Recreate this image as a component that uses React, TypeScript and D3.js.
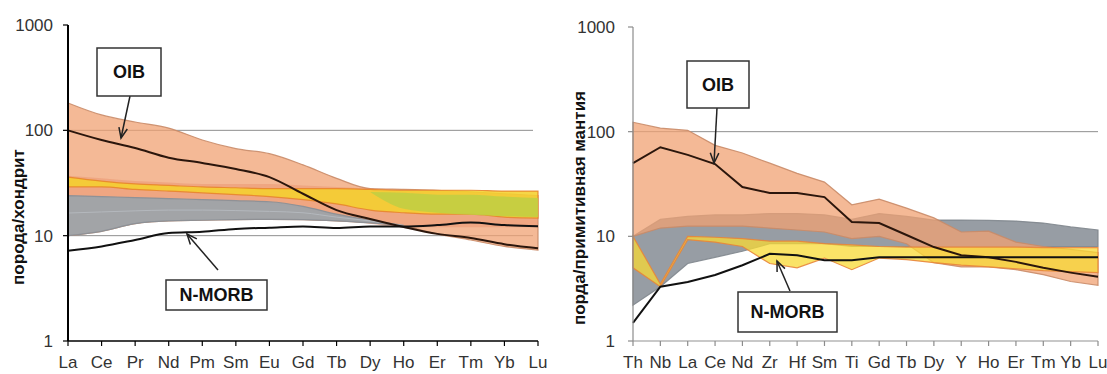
import * as d3 from "d3";

// categories
const ree = ["La", "Ce", "Pr", "Nd", "Pm", "Sm", "Eu", "Gd", "Tb", "Dy", "Ho", "Er", "Tm", "Yb", "Lu"];
const spider = ["Th", "Nb", "La", "Ce", "Nd", "Zr", "Hf", "Sm", "Ti", "Gd", "Tb", "Dy", "Y", "Ho", "Er", "Tm", "Yb", "Lu"];
const yTicks = [1, 10, 100, 1000];
const gridValues = [10, 100];

// chondrite normalised panel
const reeOibLine = [100, 81, 68, 55, 49, 43, 36, 25, 17.5, 14.4, 12.1, 10.4, 9.5, 8.3, 7.6];
const reeMorbLine = [7.2, 7.9, 9.1, 10.6, 10.9, 11.6, 11.9, 12.2, 11.8, 12.2, 12.2, 12.6, 13.3, 12.6, 12.3];
const reeOibUpper = [182, 140, 120, 105, 81, 67, 60, 47, 35, 28, 27.5, 27, 26, 25, 24];
const reeOibLower = [10, 11, 13, 13.8, 14, 14.2, 14.3, 14.2, 13.8, 13.2, 12.3, 10.4, 9.1, 7.9, 7.3];
const reeArcUpper = [37, 35, 33, 32, 31, 31, 31, 30, 29, 28, 27, 27, 26, 25, 24];
const reeArcLower = [23.5, 23, 22.5, 22, 21.5, 21, 20, 18, 15, 13, 12, 12, 12, 12, 12];
const reeGrayUpper = [24, 23.5, 23, 22.5, 22, 21.5, 21, 19, 16, 14, 12.5];
const reeGrayLower = [10, 11, 13, 13.8, 14, 14.2, 14.3, 14.2, 13.8, 13.2, 12.5];
const reeGrayMid = [16.4, 16.8, 17.2, 17.5, 17.5, 17.3, 17, 16.5, 15, 13.8, 12.5];
const reeYellowUpper = [36, 33, 31, 30, 29, 28.5, 28, 28, 28, 27.5, 27, 27, 27, 26.5, 26.5];
const reeYellowLower = [29, 29, 27.5, 26.5, 25.5, 24.5, 23.5, 22, 20, 17.5, 16.5, 16, 16, 15, 14.7];
const reeGreenUpper = [26, 25.5, 24.5, 24.5, 23.5, 22.8];
const reeGreenLower = [26, 18, 16.5, 15.8, 15.3, 15];

// primitive mantle normalised panel
const pmOibLine = [50, 71, 60, 49, 29.6, 26, 26, 23.7, 13.7, 13.4, 10.3, 7.9, 6.6, 6.3, 5.7, 5.0, 4.5, 4.1];
const pmMorbLine = [1.49, 3.3, 3.66, 4.27, 5.3, 6.8, 6.6, 5.9, 5.9, 6.3, 6.3, 6.3, 6.3, 6.3, 6.3, 6.3, 6.3, 6.3];
const pmGrayUpper = [10, 14.5, 15.5, 16, 16, 16.5, 16.5, 16, 14.5, 16.5, 15.5, 14.3, 14.3, 14.2, 14, 13.4, 12.3, 11.5];
const pmGrayLower = [2.2, 3.3, 5.5, 6.3, 7.2, 8.5, 8.5, 8.5, 8, 8, 8, 8, 8, 8, 8, 8, 8, 8];
const pmOibUpper = [123, 108, 103, 74, 62.5, 50, 40, 33, 20, 22.7, 18.6, 15, 11, 11.2, 8.8, 8, 7.5, 7];
const pmOibLower = [10, 12, 12.5, 12.5, 12.5, 12, 11.5, 11, 9.5, 10, 8.5, 5.6, 5.1, 5.1, 4.8, 4.3, 3.7, 3.4];
const pmYellowUpper = [10, 3.5, 10, 9.8, 9.5, 9, 9, 8.5, 8.3, 8, 7.9, 7.9, 7.9, 7.9, 7.9, 7.8, 7.8, 7.8];
const pmYellowLower = [5, 3.3, 9.3, 8.8, 8, 5.5, 5, 6.2, 4.8, 6.2, 6, 5.6, 5.3, 5.1, 4.9, 4.7, 4.6, 4.5];

const tickFont = "'Liberation Sans Narrow', 'Arial Narrow', 'Liberation Sans', Arial, sans-serif";
const boldFont = "'Liberation Sans', Arial, sans-serif";

const Panel = ({ cats, xRange, yRange, fields, lines, curve, axisColor, axisWidth, gridEnd, labelEnd, title, titleX, titleY }) => {
  const x = d3.scalePoint().domain(cats).range(xRange);
  const y = d3.scaleLog().domain([1, 1000]).range(yRange);

  const area = (names, upper, lower) =>
    d3
      .area()
      .x((d, i) => x(names[i]))
      .y0((d, i) => y(lower[i]))
      .y1((d, i) => y(upper[i]))
      .curve(curve)(upper);

  const lineFrom = (start) =>
    d3
      .line()
      .x((d, i) => x(cats[start + i]))
      .y((d) => y(d))
      .curve(curve);

  const [x0] = xRange;

  return (
    <g>
      {/* grid lines */}
      {gridValues.map((v) => (
        <line key={v} x1={x0} x2={gridEnd} y1={y(v)} y2={y(v)} stroke="#8f8f8f" strokeWidth={1} />
      ))}

      {/* envelopes */}
      {fields.map((f) => (
        <path
          key={f.key}
          d={area(cats.slice(f.start || 0), f.upper, f.lower)}
          fill={f.fill}
          fillOpacity={f.opacity}
          stroke={f.stroke || "none"}
          strokeWidth={1.2}
          strokeOpacity={0.9}
        />
      ))}

      {lines.map((l) => (
        <path
          key={l.key}
          d={lineFrom(l.start || 0)(l.values)}
          fill="none"
          stroke={l.color}
          strokeWidth={l.width}
        />
      ))}

      {/* axes */}
      <line x1={x0} x2={x0} y1={yRange[1]} y2={yRange[0]} stroke={axisColor} strokeWidth={axisWidth} />
      <line x1={x0} x2={xRange[1]} y1={yRange[0]} y2={yRange[0]} stroke={axisColor} strokeWidth={axisWidth * 0.8} />
      {yTicks.map((v) => (
        <g key={v}>
          <line x1={x0 - 5} x2={x0} y1={y(v)} y2={y(v)} stroke={axisColor} strokeWidth={1.2} />
          <text
            x={labelEnd}
            y={y(v)}
            dy="0.35em"
            textAnchor="end"
            fontFamily={tickFont}
            fontSize={17}
            fill="#333"
          >
            {v}
          </text>
        </g>
      ))}
      {cats.map((c) => (
        <g key={c}>
          <line x1={x(c)} x2={x(c)} y1={yRange[0]} y2={yRange[0] + 5} stroke={axisColor} strokeWidth={1.2} />
          <text x={x(c)} y={368} textAnchor="middle" fontFamily={tickFont} fontSize={17} fill="#333">
            {c}
          </text>
        </g>
      ))}

      <text
        transform={`translate(${titleX},${titleY}) rotate(-90)`}
        textAnchor="middle"
        dy="0.35em"
        fontFamily={boldFont}
        fontWeight="bold"
        fontSize={17}
        fill="#111"
      >
        {title}
      </text>
    </g>
  );
};

const Callout = ({ box, label, from, to }) => {
  const ang = Math.atan2(to[1] - from[1], to[0] - from[0]);
  const head = 11;
  const spread = 0.4;
  const p1 = [to[0] - head * Math.cos(ang - spread), to[1] - head * Math.sin(ang - spread)];
  const p2 = [to[0] - head * Math.cos(ang + spread), to[1] - head * Math.sin(ang + spread)];
  return (
    <g>
      <line x1={from[0]} y1={from[1]} x2={to[0]} y2={to[1]} stroke="#222" strokeWidth={1.5} />
      <polyline points={`${p1.join(",")} ${to.join(",")} ${p2.join(",")}`} fill="none" stroke="#222" strokeWidth={1.5} />
      <rect x={box[0]} y={box[1]} width={box[2]} height={box[3]} fill="#fff" stroke="#333" strokeWidth={1.5} />
      <text
        x={box[0] + box[2] / 2}
        y={box[1] + box[3] / 2}
        dy="0.36em"
        textAnchor="middle"
        fontFamily={boldFont}
        fontWeight="bold"
        fontSize={18}
        fill="#111"
      >
        {label}
      </text>
    </g>
  );
};

const salmon = "#F0A273";

export default function App() {
  const leftFields = [
    { key: "oib", upper: reeOibUpper, lower: reeOibLower, fill: salmon, opacity: 0.75, stroke: "#C98B68" },
    { key: "arc", upper: reeArcUpper, lower: reeArcLower, fill: "#E8916A", opacity: 0.45 },
    { key: "gray", upper: reeGrayUpper, lower: reeGrayLower, fill: "#9DA2A8", opacity: 0.95, stroke: "#8A8F96" },
    { key: "yellow", upper: reeYellowUpper, lower: reeYellowLower, fill: "#F5D02E", opacity: 0.88, stroke: "#E8852E" },
    { key: "green", start: 9, upper: reeGreenUpper, lower: reeGreenLower, fill: "#C2CE42", opacity: 0.9 },
  ];
  const leftLines = [
    { key: "mid", values: reeGrayMid, color: "#B4B8BD", width: 1 },
    { key: "oib", values: reeOibLine, color: "#2B160C", width: 2 },
    { key: "morb", values: reeMorbLine, color: "#111", width: 2 },
  ];
  const rightFields = [
    { key: "gray", upper: pmGrayUpper, lower: pmGrayLower, fill: "#979DA4", opacity: 1, stroke: "#80868D" },
    { key: "oib", upper: pmOibUpper, lower: pmOibLower, fill: salmon, opacity: 0.75, stroke: "#C98B68" },
    { key: "yellow", upper: pmYellowUpper, lower: pmYellowLower, fill: "#F8DA34", opacity: 0.75, stroke: "#E8853A" },
  ];
  const rightLines = [
    { key: "oib", values: pmOibLine, color: "#2B160C", width: 2 },
    { key: "morb", values: pmMorbLine, color: "#111", width: 2 },
  ];

  return (
    <svg
      width={1107}
      height={374}
      style={{ position: "absolute", left: 0, top: 0, background: "#fff" }}
    >
      <Panel
        cats={ree}
        xRange={[68, 538]}
        yRange={[341, 25]}
        fields={leftFields}
        lines={leftLines}
        curve={d3.curveMonotoneX}
        axisColor="#000"
        axisWidth={2}
        gridEnd={533}
        labelEnd={53}
        title="порода/хондрит"
        titleX={18}
        titleY={217}
      />
      <Panel
        cats={spider}
        xRange={[633, 1098]}
        yRange={[341, 27]}
        fields={rightFields}
        lines={rightLines}
        curve={d3.curveLinear}
        axisColor="#8c8c8c"
        axisWidth={1.2}
        gridEnd={1098}
        labelEnd={615}
        title="порда/примитивная мантия"
        titleX={579}
        titleY={208}
      />
      <Callout box={[97, 48, 64, 48]} label="OIB" from={[130, 96]} to={[121, 138]} />
      <Callout box={[166, 280, 101, 30]} label="N-MORB" from={[218, 270]} to={[187, 234]} />
      <Callout box={[687, 61, 62, 47]} label="OIB" from={[717, 108]} to={[714, 163]} />
      <Callout box={[738, 292, 99, 40]} label="N-MORB" from={[790, 291]} to={[777, 261]} />
    </svg>
  );
}
